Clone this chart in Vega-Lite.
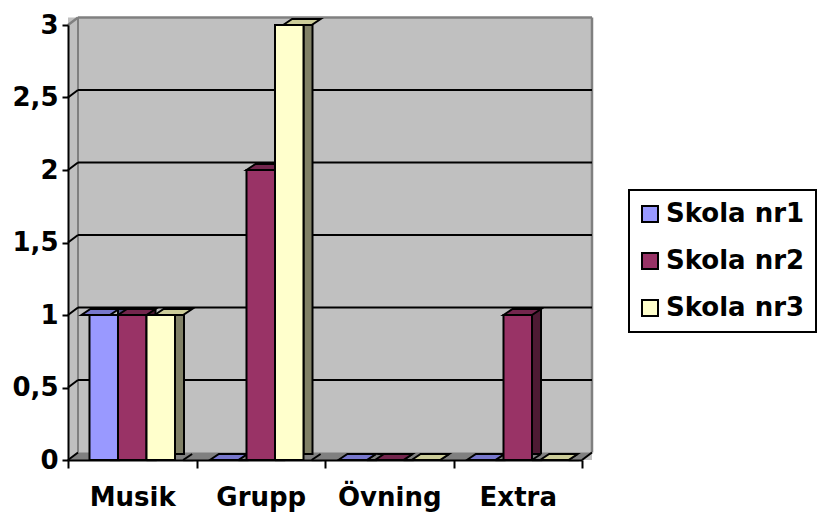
{
  "$schema": "https://vega.github.io/schema/vega-lite/v6.json",
  "width": 514,
  "height": 435,
  "autosize": {"type": "none"},
  "padding": {"left": 68, "top": 25, "right": 237, "bottom": 53},
  "background": "white",
  "config": {
    "view": {"stroke": null},
    "font": "DejaVu Sans",
    "legend": {"strokeWidth": 2},
    "axisX": {"labelAngle": 0, "labelAlign": "center", "labelBaseline": "top"}
  },
  "datasets": {
    "scores": [
      {"aktivitet": "Musik", "skola": "Skola nr1", "antal": 1},
      {"aktivitet": "Musik", "skola": "Skola nr2", "antal": 1},
      {"aktivitet": "Musik", "skola": "Skola nr3", "antal": 1},
      {"aktivitet": "Grupp", "skola": "Skola nr1", "antal": 0},
      {"aktivitet": "Grupp", "skola": "Skola nr2", "antal": 2},
      {"aktivitet": "Grupp", "skola": "Skola nr3", "antal": 3},
      {"aktivitet": "Övning", "skola": "Skola nr1", "antal": 0},
      {"aktivitet": "Övning", "skola": "Skola nr2", "antal": 0},
      {"aktivitet": "Övning", "skola": "Skola nr3", "antal": 0},
      {"aktivitet": "Extra", "skola": "Skola nr1", "antal": 0},
      {"aktivitet": "Extra", "skola": "Skola nr2", "antal": 1},
      {"aktivitet": "Extra", "skola": "Skola nr3", "antal": 0}
    ],
    "levels": [{"v": 0}, {"v": 0.5}, {"v": 1}, {"v": 1.5}, {"v": 2}, {"v": 2.5}],
    "frame": [{}]
  },
  "data": {"name": "scores"},
  "resolve": {"scale": {"fill": "independent", "xOffset": "independent"}},
  "layer": [
    {
      "data": {"name": "frame"},
      "mark": {"type": "rect", "fill": "#c0c0c0", "x2Offset": 10, "yOffset": -7.5},
      "encoding": {
        "x": {"value": 0},
        "x2": {"value": "width"},
        "y": {"datum": 3},
        "y2": {"datum": 0}
      }
    },
    {
      "data": {"name": "frame"},
      "mark": {"type": "point", "shape": "M0,0L0.01908,-0.01431L1,-0.01431L0.98092,0Z", "size": 1098304, "filled": true, "color": "#808080", "opacity": 1, "strokeWidth": 0},
      "encoding": {"x": {"value": 0}, "y": {"datum": 0}}
    },
    {
      "data": {"name": "frame"},
      "mark": {"type": "rule", "stroke": "#808080", "strokeWidth": 2.5, "xOffset": 10, "x2Offset": 10, "yOffset": -7.5},
      "encoding": {"x": {"value": 0}, "x2": {"value": "width"}, "y": {"datum": 3}}
    },
    {
      "data": {"name": "frame"},
      "mark": {"type": "rule", "stroke": "#808080", "strokeWidth": 2.5, "xOffset": 10, "yOffset": -7.5, "y2Offset": -7.5},
      "encoding": {"x": {"value": "width"}, "y": {"datum": 3}, "y2": {"datum": 0}}
    },
    {
      "data": {"name": "frame"},
      "mark": {"type": "rule", "stroke": "#808080", "strokeWidth": 2, "xOffset": 10, "yOffset": -7.5, "y2Offset": -7.5},
      "encoding": {"x": {"value": 0}, "y": {"datum": 3}, "y2": {"datum": 0}}
    },
    {
      "data": {"name": "frame"},
      "mark": {"type": "rule", "stroke": "#808080", "strokeWidth": 2.5, "x2Offset": 10, "y2Offset": -7.5},
      "encoding": {"x": {"value": 0}, "x2": {"value": 0}, "y": {"datum": 3}, "y2": {"datum": 3}}
    },
    {
      "data": {"name": "levels"},
      "transform": [{"filter": "datum.v > 0"}],
      "mark": {"type": "rule", "stroke": "black", "strokeWidth": 2, "xOffset": 10, "x2Offset": 10, "yOffset": -7.5},
      "encoding": {"x": {"value": 0}, "x2": {"value": "width"}, "y": {"field": "v", "type": "quantitative"}}
    },
    {
      "data": {"name": "levels"},
      "mark": {"type": "rule", "stroke": "black", "strokeWidth": 2, "x2Offset": 10, "y2Offset": -7.5},
      "encoding": {"x": {"value": 0}, "x2": {"value": 0}, "y": {"field": "v", "type": "quantitative"}, "y2": {"field": "v"}}
    },
    {
      "mark": {"type": "bar", "yOffset": -6, "stroke": "black", "strokeWidth": 2},
      "encoding": {
        "x": {"field": "aktivitet", "type": "nominal", "sort": ["Musik", "Grupp", "Övning", "Extra"], "scale": {"paddingInner": 0, "paddingOuter": 0}},
        "xOffset": {"field": "skola", "type": "nominal", "scale": {"range": [50, 116], "paddingInner": 0.6842, "paddingOuter": 0}},
        "y": {"field": "antal", "type": "quantitative"},
        "fill": {"field": "skola", "type": "nominal", "scale": {"range": ["#4d4d80", "#4d1a33", "#808066"]}, "legend": null}
      }
    },
    {
      "mark": {"type": "point", "shape": "M0.57,0L0.93,-0.24L0.98,-0.24L0.98,0.048L0.57,0.048Z", "size": 2500, "filled": true, "color": "#808080", "opacity": 1, "strokeWidth": 0},
      "encoding": {
        "x": {"field": "aktivitet", "type": "nominal", "sort": ["Musik", "Grupp", "Övning", "Extra"]},
        "xOffset": {"field": "skola", "type": "nominal", "scale": {"paddingInner": 0, "paddingOuter": 0.754}},
        "y": {"datum": 0}
      }
    },
    {
      "mark": {"type": "point", "shape": "M0.57,0L0.93,-0.24", "size": 2500, "filled": false, "stroke": "black", "strokeWidth": 2, "opacity": 1},
      "encoding": {
        "x": {"field": "aktivitet", "type": "nominal", "sort": ["Musik", "Grupp", "Övning", "Extra"]},
        "xOffset": {"field": "skola", "type": "nominal", "scale": {"paddingInner": 0, "paddingOuter": 0.754}},
        "y": {"datum": 0}
      }
    },
    {
      "mark": {"type": "point", "shape": "M-0.57,0L-0.21,-0.24L0.93,-0.24L0.57,0Z", "size": 2500, "filled": true, "stroke": "black", "strokeWidth": 2, "opacity": 1},
      "encoding": {
        "x": {"field": "aktivitet", "type": "nominal", "sort": ["Musik", "Grupp", "Övning", "Extra"]},
        "xOffset": {"field": "skola", "type": "nominal", "scale": {"paddingInner": 0, "paddingOuter": 0.754}},
        "y": {"field": "antal", "type": "quantitative"},
        "fill": {"field": "skola", "type": "nominal", "scale": {"range": ["#7777cc", "#73264d", "#cccc99"]}, "legend": null}
      }
    },
    {
      "mark": {"type": "bar", "stroke": "black", "strokeWidth": 2},
      "encoding": {
        "x": {
          "field": "aktivitet", "type": "nominal", "sort": ["Musik", "Grupp", "Övning", "Extra"],
          "axis": {"title": null, "tickBand": "extent", "grid": false, "domainColor": "black", "domainWidth": 2, "tickColor": "black", "tickWidth": 2, "tickSize": 8, "labelAngle": 0, "labelAlign": "center", "labelBaseline": "top", "labelFont": "DejaVu Sans", "labelFontSize": 26, "labelFontWeight": "bold", "labelColor": "black", "labelPadding": 16, "labelLimit": 0, "zindex": 1}
        },
        "xOffset": {"field": "skola", "type": "nominal", "scale": {"paddingInner": 0, "paddingOuter": 0.754}},
        "y": {
          "field": "antal", "type": "quantitative", "scale": {"domain": [0, 3], "nice": false},
          "axis": {"title": null, "values": [0, 0.5, 1, 1.5, 2, 2.5, 3], "labelExpr": "replace(format(datum.value, '~g'), '.', ',')", "grid": false, "domainColor": "black", "domainWidth": 2, "tickColor": "black", "tickWidth": 2, "tickSize": 6, "labelPadding": 4, "labelFont": "DejaVu Sans", "labelFontSize": 26, "labelFontWeight": "bold", "labelColor": "black", "labelOverlap": false, "zindex": 1}
        },
        "color": {
          "field": "skola", "type": "nominal", "scale": {"range": ["#9999ff", "#993366", "#ffffcc"]},
          "legend": {"orient": "none", "legendX": 561, "legendY": 165, "title": null, "symbolType": "square", "symbolSize": 256, "symbolStrokeColor": "black", "symbolStrokeWidth": 2, "symbolOpacity": 1, "symbolOffset": -3, "labelFont": "DejaVu Sans", "labelFontSize": 26, "labelFontWeight": "bold", "labelColor": "black", "labelOffset": 3, "labelLimit": 0, "rowPadding": 21, "padding": 11, "strokeColor": "black", "fillColor": "white"}
        }
      }
    },
    {
      "data": {"name": "frame"},
      "mark": {"type": "rule", "stroke": "black", "strokeWidth": 2, "x2Offset": 10, "y2Offset": -7.5},
      "encoding": {"x": {"value": "width"}, "x2": {"value": "width"}, "y": {"datum": 0}, "y2": {"datum": 0}}
    }
  ]
}
